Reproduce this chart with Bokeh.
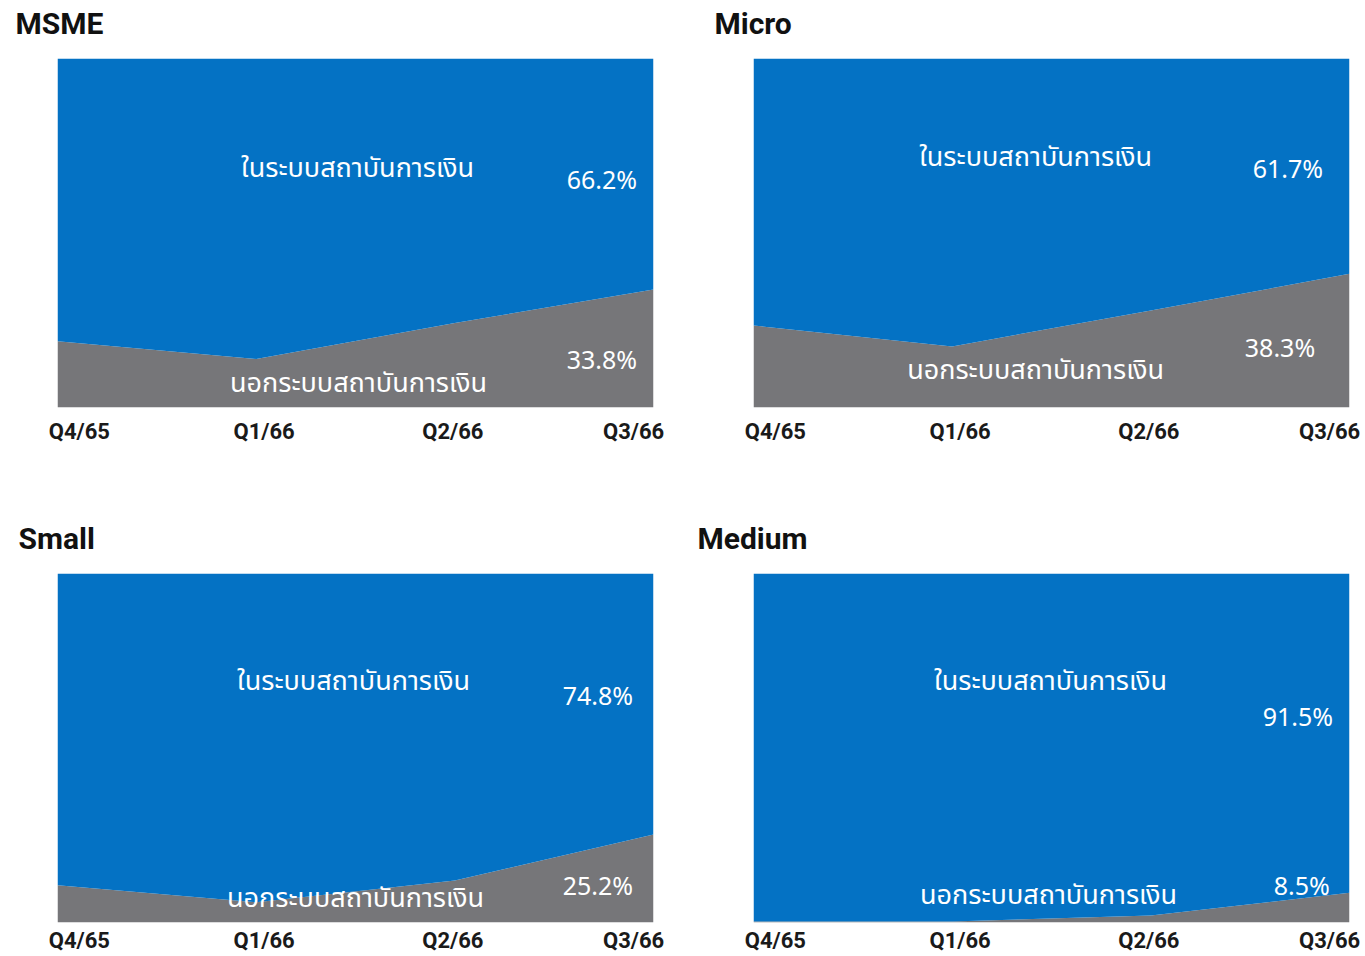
from bokeh.plotting import figure
from bokeh.models import Range1d, FixedTicker, ColumnDataSource
from bokeh.layouts import column, row
from bokeh.core.properties import value
from bokeh.embed import file_html
from bokeh.resources import INLINE

# Loan shares of SMEs, inside vs. outside the formal financial system (%)
QUARTERS = ["Q4/65", "Q1/66", "Q2/66", "Q3/66"]

MSME_OUTSIDE = [19.0, 13.9, 24.2, 33.8]
MSME_INSIDE = [81.0, 86.1, 75.8, 66.2]

MICRO_OUTSIDE = [23.5, 17.5, 27.8, 38.3]
MICRO_INSIDE = [76.5, 82.5, 72.2, 61.7]

SMALL_OUTSIDE = [10.7, 5.8, 12.0, 25.2]
SMALL_INSIDE = [89.3, 94.2, 88.0, 74.8]

MEDIUM_OUTSIDE = [0.3, 0.3, 2.0, 8.5]
MEDIUM_INSIDE = [99.7, 99.7, 98.0, 91.5]

INSIDE_LABEL = "ในระบบสถาบันการเงิน"
OUTSIDE_LABEL = "นอกระบบสถาบันการเงิน"

BLUE = "#0472C4"
GREY = "#767679"
THAI_FONT = "Noto Sans Thai, Noto Sans, sans-serif"
LATIN_FONT = "Roboto"

# where the quarter names sit along the x axis (data units 0..3)
TICK_POS = [0.11, 1.04, 1.99, 2.90]
FRAME_H = 349


def heading(name, width, height, tx, ty):
    """A strip holding one panel's bold heading."""
    h = figure(width=width, height=height,
               x_range=Range1d(0, width), y_range=Range1d(0, height),
               output_backend="svg", toolbar_location=None,
               x_axis_location=None, y_axis_location=None,
               min_border=0)
    h.outline_line_color = None
    h.grid.visible = False
    h.background_fill_color = "white"
    h.border_fill_color = "white"
    h.text(x=[tx], y=[ty], text=[name], text_font=value(LATIN_FONT),
           text_font_size="30px", text_font_style="bold", text_color="#111111",
           text_align="left", text_baseline="alphabetic")
    return h


def panel(outside, inside, width, borders, standoff, spots):
    left, right, bottom = borders
    p = figure(width=width, height=FRAME_H + bottom,
               x_range=Range1d(0, 3), y_range=Range1d(0, 100),
               output_backend="svg", toolbar_location=None,
               y_axis_location=None,
               min_border_left=left, min_border_right=right,
               min_border_top=0, min_border_bottom=bottom)
    p.outline_line_color = None
    p.background_fill_color = "white"
    p.border_fill_color = "white"
    p.grid.visible = False

    src = ColumnDataSource(dict(x=list(range(len(QUARTERS))),
                                outside=outside, inside=inside))
    p.varea_stack(["outside", "inside"], x="x", color=[GREY, BLUE], source=src)

    ax = p.xaxis[0]
    ax.ticker = FixedTicker(ticks=TICK_POS)
    ax.major_label_overrides = {t: q for t, q in zip(TICK_POS, QUARTERS)}
    ax.axis_line_color = None
    ax.major_tick_line_color = None
    ax.minor_tick_line_color = None
    ax.major_tick_out = 0
    ax.major_tick_in = 0
    ax.minor_tick_out = 0
    ax.major_label_standoff = standoff
    ax.major_label_text_font = LATIN_FONT
    ax.major_label_text_font_size = "22px"
    ax.major_label_text_font_style = "bold"
    ax.major_label_text_color = "#1a1a1a"

    (ix, iy), (ivx, ivy), (ox, oy), (ovx, ovy) = spots
    p.text(x=[ix, ox], y=[iy, oy], text=[INSIDE_LABEL, OUTSIDE_LABEL],
           text_color="white", text_font=value(THAI_FONT), text_font_size="27px",
           text_align="center", text_baseline="middle")
    p.text(x=[ivx, ovx], y=[ivy, ovy],
           text=[f"{inside[-1]:.1f}%", f"{outside[-1]:.1f}%"],
           text_color="white", text_font=value(THAI_FONT), text_font_size="25px",
           text_align="center", text_baseline="middle")
    return p


h1 = heading("MSME", 683, 58, 15, 35)
h2 = heading("Micro", 682, 58, 31, 35)
p1 = panel(MSME_OUTSIDE, MSME_INSIDE, 683, (57, 30, 50), 11,
           [(1.51, 68.4), (2.74, 65.0), (1.515, 6.9), (2.74, 13.4)])
p2 = panel(MICRO_OUTSIDE, MICRO_INSIDE, 682, (70, 16, 50), 11,
           [(1.42, 71.5), (2.69, 68.1), (1.42, 10.6), (2.65, 16.9)])

h3 = heading("Small", 683, 116, 18, 35)
h4 = heading("Medium", 682, 116, 14, 35)
p3 = panel(SMALL_OUTSIDE, SMALL_INSIDE, 683, (57, 30, 34), 5,
           [(1.49, 69.1), (2.72, 64.5), (1.50, 6.9), (2.72, 10.3)])
p4 = panel(MEDIUM_OUTSIDE, MEDIUM_INSIDE, 682, (70, 16, 34), 5,
           [(1.495, 69.1), (2.74, 58.5), (1.485, 7.7), (2.76, 10.3)])

layout = column(row(h1, h2), row(p1, p2), row(h3, h4), row(p3, p4))

open("out.html", "w").write(file_html(layout, INLINE))
